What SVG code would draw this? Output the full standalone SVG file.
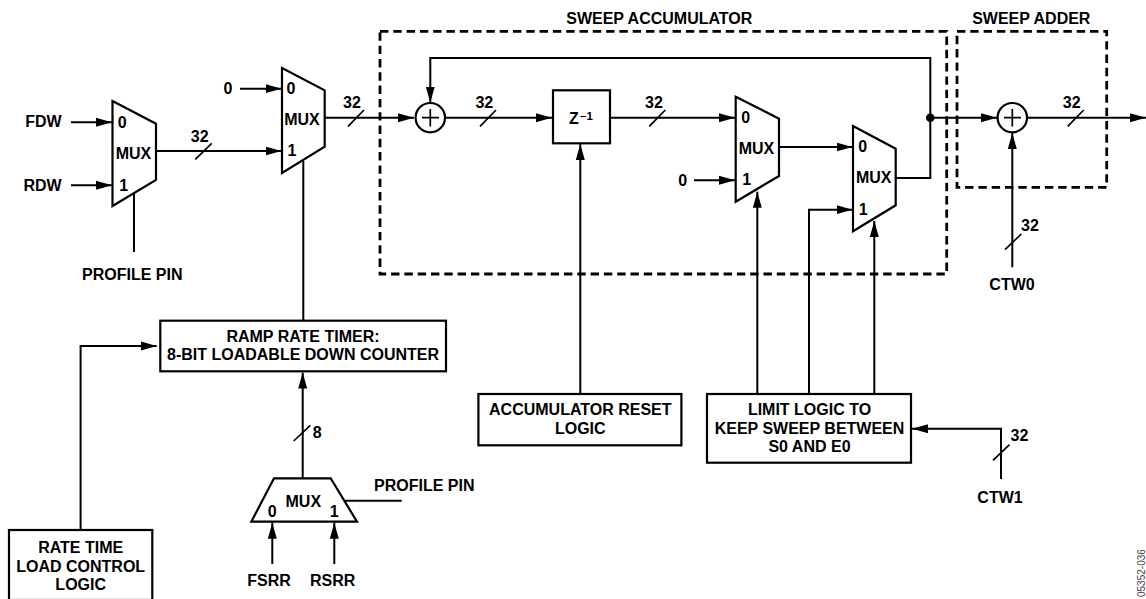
<svg xmlns="http://www.w3.org/2000/svg" width="1146" height="599" viewBox="0 0 1146 599">
<style>
text{font-family:"Liberation Sans",Arial,sans-serif;font-weight:700;font-size:16px;fill:#000;text-anchor:middle}
.b{fill:#fff;stroke:#000;stroke-width:2.2}
.w{fill:none;stroke:#000;stroke-width:2}
.d{fill:none;stroke:#000;stroke-width:2.8;stroke-dasharray:8.4 4.9}
.s{fill:none;stroke:#000;stroke-width:1.7}
</style>
<defs>
<marker id="a" markerUnits="userSpaceOnUse" markerWidth="17" markerHeight="10" refX="16" refY="5" orient="auto"><path d="M0 0.5L16 5L0 9.5Z" fill="#000"/></marker>
</defs>
<rect width="1146" height="599" fill="#fff"/>
<g id="sweep-accumulator"><rect class="d" x="380" y="31.3" width="566.7" height="242.7"/><text x="659.3" y="24">SWEEP ACCUMULATOR</text></g>
<g id="sweep-adder"><rect class="d" x="957" y="31.3" width="149.7" height="156"/><text x="1031.3" y="24">SWEEP ADDER</text></g>
<g id="connectors">
<path class="w" marker-end="url(#a)" d="M71 122.3H112"/>
<path class="w" marker-end="url(#a)" d="M71 185.3H112"/>
<path class="w" d="M134 194V252"/>
<path class="w" marker-end="url(#a)" d="M156 151H281.5"/>
<path class="s" d="M195.3 159.3L211.7 143.3"/>
<path class="w" marker-end="url(#a)" d="M240 88.7H281.5"/>
<path class="w" marker-end="url(#a)" d="M325 117.7H414"/>
<path class="s" d="M348 126.3L364 110"/>
<path class="w" d="M303.3 161V320.7"/>
<path class="w" marker-end="url(#a)" d="M445 117.7H552"/>
<path class="s" d="M480 126.3L496 110"/>
<path class="w" marker-end="url(#a)" d="M610 117.7H735"/>
<path class="s" d="M649.3 126.3L665.3 110"/>
<path class="w" marker-end="url(#a)" d="M580.3 394V144"/>
<path class="w" marker-end="url(#a)" d="M694 180.3H735"/>
<path class="w" marker-end="url(#a)" d="M757.3 394V191.7"/>
<path class="w" marker-end="url(#a)" d="M779 147H852.5"/>
<path class="w" marker-end="url(#a)" d="M809 394V209.7H852.5"/>
<path class="w" marker-end="url(#a)" d="M874.3 394V221"/>
<path class="w" marker-end="url(#a)" d="M895.7 178H930.3V58H430.3V102.5"/>
<circle cx="930.3" cy="117.7" r="4.3" fill="#000"/>
<path class="w" marker-end="url(#a)" d="M930.3 117.7H997"/>
<path class="w" marker-end="url(#a)" d="M1027 117.7H1146"/>
<path class="s" d="M1067.7 126.3L1083.7 110"/>
<path class="w" marker-end="url(#a)" d="M1012.3 267.3V133"/>
<path class="s" d="M1005 249.7L1021.3 234"/>
<path class="w" marker-end="url(#a)" d="M80.6 530V346H156.7"/>
<path class="w" marker-end="url(#a)" d="M302.7 478V372.5"/>
<path class="s" d="M293.7 441L310.3 425.3"/>
<path class="w" d="M345 500.7H401.7"/>
<path class="w" marker-end="url(#a)" d="M272.3 564V522.7"/>
<path class="w" marker-end="url(#a)" d="M334.3 564V522.7"/>
<path class="w" marker-end="url(#a)" d="M1001 479V428.7H912"/>
<path class="s" d="M993 460.3L1009.5 444.7"/>
</g>
<g id="fdw-input"><text x="43.5" y="127">FDW</text></g>
<g id="rdw-input"><text x="42.5" y="190.5">RDW</text></g>
<g id="zero-input-b"><text x="228" y="94">0</text></g>
<g id="profile-pin-a"><text x="132.3" y="280">PROFILE PIN</text></g>
<g id="mux-a"><path class="b" d="M112.5 101L156 123.7V180L112.5 206Z"/><text x="122.3" y="128">0</text><text x="133.5" y="159.3">MUX</text><text x="123.7" y="190.7">1</text></g>
<g id="label-a"><text x="199.7" y="142">32</text></g>
<g id="mux-b"><path class="b" d="M282 68L324.7 90.3V146.7L282 173Z"/><text x="291" y="94">0</text><text x="302" y="125">MUX</text><text x="292" y="156">1</text></g>
<g id="label-b"><text x="352" y="108">32</text></g>
<g id="adder-1"><circle class="b" cx="430.3" cy="117.7" r="14.7"/><path class="s" d="M430.3 109V126.5M422 117.7H439"/></g>
<g id="label-c"><text x="484.3" y="108">32</text></g>
<g id="z-box"><rect class="b" x="553" y="90.3" width="57" height="53"/><text x="574" y="124">Z</text><text x="586.4" y="120" style="font-size:11.5px">–1</text></g>
<g id="label-d"><text x="654" y="108">32</text></g>
<g id="mux-c"><path class="b" d="M735.7 96.7L779 118.7V176L735.7 201.7Z"/><text x="745.7" y="123.3">0</text><text x="756.5" y="154">MUX</text><text x="746.7" y="185.3">1</text></g>
<g id="zero-input-c"><text x="682.7" y="186">0</text></g>
<g id="mux-d"><path class="b" d="M853 126L895.7 148.7V205.3L853 231.3Z"/><text x="862.7" y="152.3">0</text><text x="873.7" y="183.3">MUX</text><text x="863.3" y="215">1</text></g>
<g id="adder-2"><circle class="b" cx="1012.3" cy="117.7" r="14.7"/><path class="s" d="M1012.3 109V126.5M1004 117.7H1021"/></g>
<g id="label-e"><text x="1071.7" y="108">32</text></g>
<g id="ctw0"><text x="1030" y="231">32</text><text x="1012" y="290">CTW0</text></g>
<g id="ramp-timer"><rect class="b" x="160.3" y="320.7" width="285.7" height="50.6"/><text x="303" y="342">RAMP RATE TIMER:</text><text x="303" y="360">8-BIT LOADABLE DOWN COUNTER</text></g>
<g id="rate-load"><rect class="b" x="9" y="530" width="143.3" height="70"/><text x="80.7" y="553.3">RATE TIME</text><text x="80.7" y="572.3">LOAD CONTROL</text><text x="80.7" y="590">LOGIC</text></g>
<g id="label-8"><text x="317.3" y="438">8</text></g>
<g id="mux-e"><path class="b" d="M274 478.3H330.7L357 521.7H251.3Z"/><text x="303.3" y="507.3">MUX</text><text x="272.3" y="517.3">0</text><text x="334.3" y="517.3">1</text></g>
<g id="profile-pin-e"><text x="424.3" y="490.7">PROFILE PIN</text></g>
<g id="fsrr"><text x="269" y="585.7">FSRR</text></g>
<g id="rsrr"><text x="332.7" y="585.7">RSRR</text></g>
<g id="acc-reset"><rect class="b" x="478.4" y="394" width="203" height="51.3"/><text x="580.3" y="415">ACCUMULATOR RESET</text><text x="580.3" y="434">LOGIC</text></g>
<g id="limit-logic"><rect class="b" x="707" y="394" width="204" height="68.7"/><text x="809.5" y="415">LIMIT LOGIC TO</text><text x="809.5" y="434">KEEP SWEEP BETWEEN</text><text x="809.5" y="452.3">S0 AND E0</text></g>
<g id="ctw1"><text x="1019.5" y="441">32</text><text x="1000" y="503.3">CTW1</text></g>
<text transform="translate(1145 597) rotate(-90)" style="font-size:10px;font-weight:400;fill:#444;text-anchor:start">05352-036</text>
</svg>
